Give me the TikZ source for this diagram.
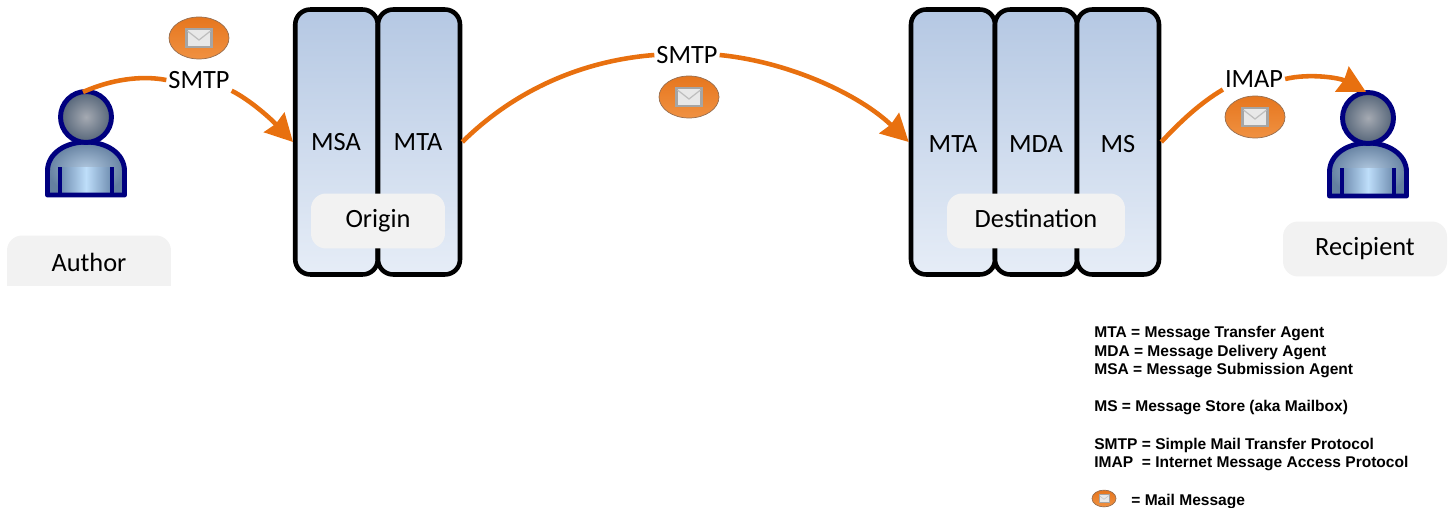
\documentclass[tikz,border=0pt]{standalone}
\usepackage{fontspec}
\setmainfont{Carlito}
\newfontfamily\legendfont{Liberation Sans}
\usepackage{tikz}
\usetikzlibrary{arrows.meta}
\definecolor{flow}{HTML}{E8700F}
\definecolor{navyline}{HTML}{00007F}
\tikzstyle{ServerBox} = [rectangle, draw=black, line width=2.6pt, rounded corners=0.3cm, inner sep=0pt,
    minimum height=5.3cm, top color={rgb,255:red,181;green,200;blue,227}, bottom color={rgb,255:red,230;green,237;blue,247}]
\tikzstyle{TagBox} = [rectangle, fill={rgb,255:red,242;green,242;blue,242}, rounded corners=0.3cm, inner sep=0pt,
    minimum height=1.1cm, text height=10pt, text depth=2.5pt, font=\fontsize{15}{17}\selectfont]
\tikzstyle{Label} = [inner sep=1pt, font=\fontsize{15}{17}\selectfont]
\tikzstyle{Legend} = [right, inner sep=0pt, font=\legendfont\bfseries\fontsize{8.85}{10}\selectfont]
\tikzstyle{arrow} = [draw=flow, line width=2.6pt]
\tikzstyle{arrowhead} = [-{Stealth[length=0.54cm,width=0.56cm,inset=0.04cm]}]
\newcommand{\PersonIcon}[1]{
    \begin{scope}[shift={(#1)}]
        \shade [inner color={rgb,255:red,176;green,199;blue,222}, outer color={rgb,255:red,100;green,128;blue,160}]
            (-38.5,78) -- (-38.5,54) .. controls (-38.5,36) and (-20,25) .. (0,25)
            .. controls (20,25) and (38.5,36) .. (38.5,54) -- (38.5,78) -- cycle; %body
        \shade [left color={rgb,255:red,110;green,140;blue,175}, right color={rgb,255:red,110;green,140;blue,175},
            middle color={rgb,255:red,190;green,222;blue,250}] (-26,50) rectangle (26,76); %chest
        \draw [navyline, line width=2.8pt, line join=round]
            (-38.5,78) -- (-38.5,54) .. controls (-38.5,36) and (-20,25) .. (0,25)
            .. controls (20,25) and (38.5,36) .. (38.5,54) -- (38.5,78) -- cycle;
        \draw [navyline, line width=2.6pt] (-26,78) -- (-26,50); %left arm
        \draw [navyline, line width=2.6pt] (26,78) -- (26,50); %right arm
        \shade [draw=navyline, line width=2.8pt, inner color={rgb,255:red,165;green,170;blue,178},
            outer color={rgb,255:red,84;green,100;blue,120}] (0,0) circle (0.51cm); %head
    \end{scope}
}
\newcommand{\MailIcon}[2]{
    \begin{scope}[shift={(#1)}, scale=#2]
        \shade [draw={rgb,255:red,150;green,110;blue,80}, line width=0.4pt, top color={rgb,255:red,230;green,118;blue,30},
            bottom color={rgb,255:red,240;green,145;blue,65}] (0,0) ellipse (0.6cm and 0.42cm);
        \draw [fill={rgb,255:red,232;green,232;blue,232}, draw={rgb,255:red,165;green,165;blue,165}, line width=#2*1.4pt]
            (-12.5,-9) rectangle (12.5,9); %envelope
        \draw [draw={rgb,255:red,190;green,190;blue,190}, line width=#2*0.7pt] (-11.5,-7) -- (0,2) -- (11.5,-7); %flap
    \end{scope}
}

\begin{document}
\begin{tikzpicture}[x=0.02cm, y=-0.02cm]
        \useasboundingbox (0,0) rectangle (1453,510);
        \begin{scope}
        \clip (0,0) rectangle (1453,285);
        \node [TagBox, minimum width=3.28cm, minimum height=1.3cm] (AuthorTag) at (89,268) {}; %cut off below
        \end{scope}
        \node [Label] (AuthorText) at (89,262) {Author};
        \node [TagBox, minimum width=3.28cm] (RecipientTag) at (1365,249) {Recipient};
        \PersonIcon{86,117}
        \PersonIcon{1368,118}
        \coordinate (AuthorHead) at (83,92);
        \coordinate (RecipientHead) at (1366,92);
        %origin servers
        \node [ServerBox, minimum width=1.65cm] (OriginMSA) at (336.5,142) {};
        \node [ServerBox, minimum width=1.64cm] (OriginMTA) at (419,142) {};
        \node [Label] (MSA) at (336,142) {MSA};
        \node [Label] (MTAa) at (418,142) {MTA};
        \node [TagBox, minimum width=2.68cm] (Origin) at (378,221) {Origin};
        %destination servers
        \node [ServerBox, minimum width=1.68cm] (DestMTA) at (953,142) {};
        \node [ServerBox, minimum width=1.64cm] (DestMDA) at (1036,142) {};
        \node [ServerBox, minimum width=1.64cm] (DestMS) at (1118,142) {};
        \node [Label] (MTAb) at (953,144) {MTA};
        \node [Label] (MDA) at (1036,144) {MDA};
        \node [Label] (MS) at (1118,144) {MS};
        \node [TagBox, minimum width=3.56cm] (Destination) at (1036,221) {Destination};
        %protocols
        \node [Label] (SmtpA) at (199,80) {SMTP};
        \node [Label] (SmtpB) at (687,55) {SMTP};
        \node [Label] (Imap) at (1254,79) {IMAP};
        \MailIcon{199,38}{1}
        \MailIcon{689,97}{1}
        \MailIcon{1255,117}{1}
        \draw [arrow] (AuthorHead) .. controls (110,80) and (140,75) .. (SmtpA.west);
        \draw [arrow, arrowhead] (SmtpA.south east) .. controls (250,100) and (270,118) .. (OriginMSA.west);
        \draw [arrow] (OriginMTA.east) .. controls (520,85) and (590,60) .. (SmtpB.west);
        \draw [arrow, arrowhead] (SmtpB.east) .. controls (790,62) and (860,95) .. (DestMTA.west);
        \draw [arrow] (DestMS.east) .. controls (1180,122) and (1200,103) .. (Imap.south west);
        \draw [arrow, arrowhead] (Imap.east) .. controls (1310,73) and (1340,78) .. (RecipientHead);
        %legend
        \node [Legend] (LegendMTA) at (1094,334) {MTA = Message Transfer Agent};
        \node [Legend] (LegendMDA) at (1094,352.5) {MDA = Message Delivery Agent};
        \node [Legend] (LegendMSA) at (1094,371) {MSA = Message Submission Agent};
        \node [Legend] (LegendMS) at (1094,408) {MS = Message Store (aka Mailbox)};
        \node [Legend] (LegendSMTP) at (1094,445) {SMTP = Simple Mail Transfer Protocol};
        \node [Legend] (LegendIMAP) at (1094,464) {IMAP\ \ = Internet Message Access Protocol};
        \begin{scope}
        \clip (1000,480) rectangle (1453,507);
        \MailIcon{1104,498.5}{0.4}
        \node [Legend] (LegendMail) at (1131,502) {= Mail Message};
        \end{scope}
    \end{tikzpicture}
\end{document}
